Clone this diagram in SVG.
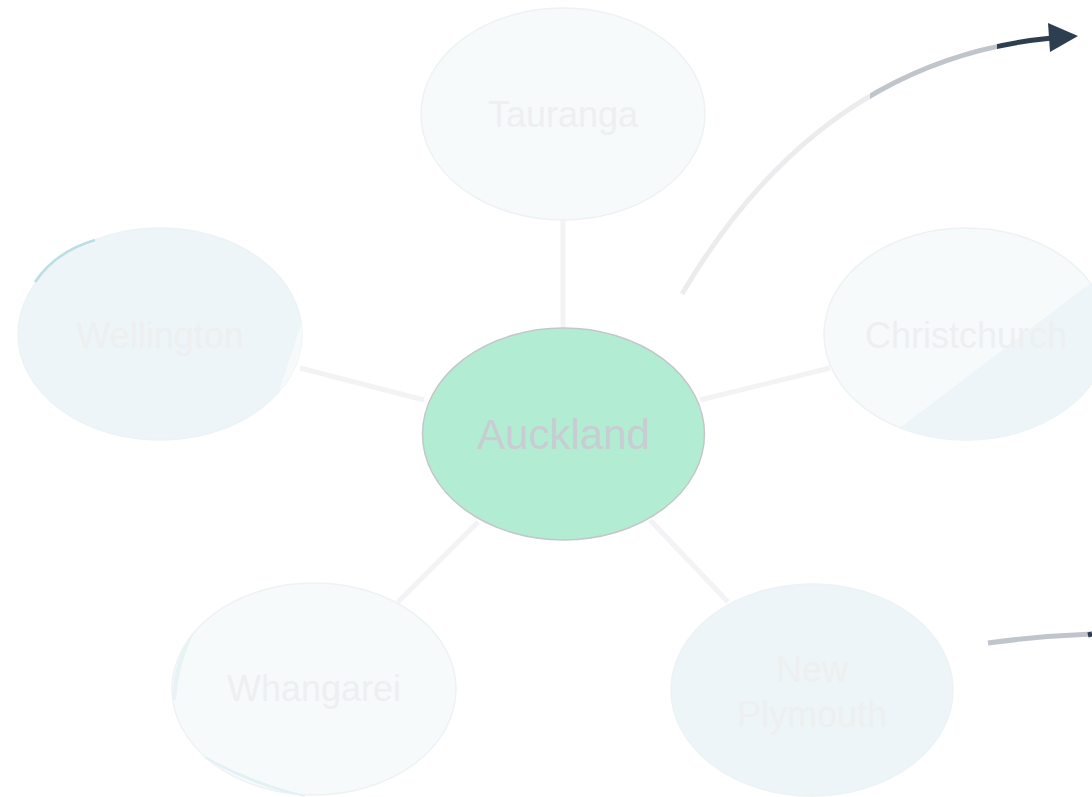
<svg xmlns="http://www.w3.org/2000/svg" width="1092" height="797" viewBox="0 0 1092 797">
<style>
.lbl{font-family:"Liberation Sans",Arial,sans-serif;font-size:36px;text-anchor:middle;fill:#eeeff1}
.edge{stroke:#f3f3f5;stroke-width:5;fill:none}
.node{stroke:#edf2f4;stroke-width:1.5}
</style>
<defs>
<linearGradient id="arc" gradientUnits="userSpaceOnUse" x1="682" y1="0" x2="1078" y2="0">
<stop offset="0" stop-color="#ececee"/><stop offset="0.475" stop-color="#ececee"/>
<stop offset="0.475" stop-color="#c0c5cc"/><stop offset="0.795" stop-color="#c0c5cc"/>
<stop offset="0.795" stop-color="#2d3e50"/><stop offset="1" stop-color="#2d3e50"/>
</linearGradient>
<clipPath id="cc"><ellipse cx="966" cy="334" rx="142" ry="106"/></clipPath>
<clipPath id="cw"><ellipse cx="160" cy="334" rx="142" ry="106"/></clipPath>
</defs>
<rect width="1092" height="797" fill="#ffffff"/>
<g id="connectors">
<line class="edge" x1="563" y1="220" x2="563" y2="328"/>
<line class="edge" x1="300" y1="368" x2="424" y2="400"/>
<line class="edge" x1="700" y1="400" x2="830" y2="368"/>
<line class="edge" x1="398" y1="602" x2="478" y2="522"/>
<line class="edge" x1="650" y1="520" x2="728" y2="602" stroke="#e9eaec"/>
<path d="M682,294 Q820,60 1052,38" fill="none" stroke="url(#arc)" stroke-width="5"/>
<polygon points="1048,23 1078,36 1050,52" fill="#2d3e50"/>
<path d="M988,643 Q1040,636 1092,634" fill="none" stroke="#c0c5cc" stroke-width="5"/>
<path d="M1088,635 L1092,634" fill="none" stroke="#2d3e50" stroke-width="5"/>
</g>
<g id="tauranga">
<ellipse class="node" cx="563" cy="114" rx="142" ry="106" fill="#f6fafb" stroke="#f1f5f7"/>
<text class="lbl" x="563" y="127" fill="#f3f4f6">Tauranga</text>
</g>
<g id="wellington">
<ellipse class="node" cx="160" cy="334" rx="142" ry="106" fill="#edf5f8"/>
<polygon points="302,322 278,394 320,440 320,300" fill="#f6fafb" clip-path="url(#cw)"/>
<path d="M35,282 Q55,252 95,240" fill="none" stroke="#b9dfe6" stroke-width="2.5"/>
<text class="lbl" x="160" y="348">Wellington</text>
</g>
<g id="christchurch">
<ellipse class="node" cx="966" cy="334" rx="142" ry="106" fill="#f6fafb"/>
<polygon points="897,430 1092,282 1110,450 880,450" fill="#edf5f8" clip-path="url(#cc)"/>
<text class="lbl" x="966" y="348" fill="#f0f1f3">Christchurch</text>
</g>
<g id="whangarei">
<ellipse class="node" cx="314" cy="689" rx="142" ry="106" fill="#f6fafb" stroke="#f1f5f7"/>
<path d="M173,700 Q172,660 195,630 Q178,665 176,700 Z" fill="#e8f3f6"/>
<path d="M205,757 Q250,785 305,796 Q250,782 205,757 Z" fill="#e4f1f4" stroke="#e4f1f4" stroke-width="1.5"/>
<text class="lbl" x="314" y="701" fill="#f4f5f7">Whangarei</text>
</g>
<g id="newplymouth">
<ellipse class="node" cx="812" cy="690" rx="141" ry="106" fill="#edf5f8"/>
<text class="lbl" x="812" y="682" fill="#e8ecef">New</text>
<text class="lbl" x="812" y="727" fill="#e8ecef">Plymouth</text>
</g>
<g id="auckland">
<ellipse cx="563.5" cy="434" rx="141" ry="106" fill="#b2ecd2" stroke="#c4c6cc" stroke-width="1.5"/>
<text x="563.5" y="449" font-family="Liberation Sans, Arial, sans-serif" font-size="42" text-anchor="middle" fill="#c9ccd3">Auckland</text>
</g>
</svg>
